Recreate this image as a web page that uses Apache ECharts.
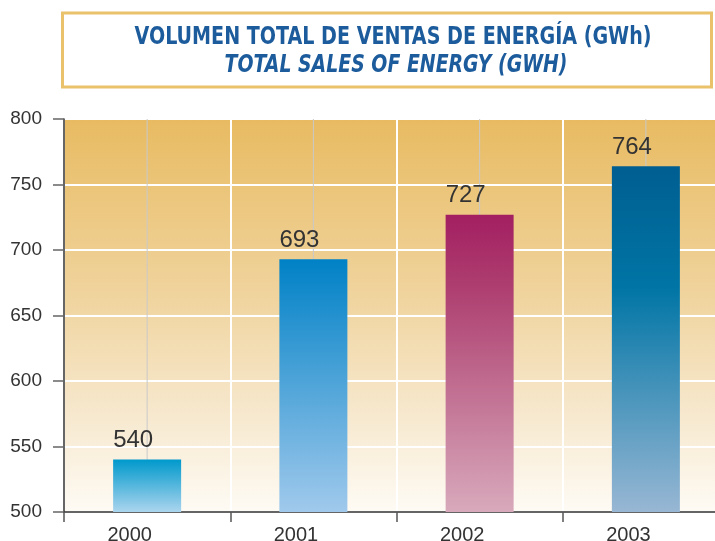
<!DOCTYPE html>
<html>
<head>
<meta charset="utf-8">
<script src="https://cdn.jsdelivr.net/npm/echarts@6/dist/echarts.min.js"></script>
<style>html,body{margin:0;padding:0;background:#fff}#c{width:715px;height:541px}</style>
</head>
<body>
<div id="c"></div>
<script>
var categories = ['2000', '2001', '2002', '2003'];
var values = [540, 693, 727, 764];
var guideTop = [800, 800, 800, 800];
var yMin = 500, yMax = 800, yStep = 50;
var titleEs = 'VOLUMEN TOTAL DE VENTAS DE ENERGÍA (GWh)';
var titleEn = 'TOTAL SALES OF ENERGY (GWH)';

var barGradients = [
  [[0, '#0099CC'], [1, '#ABD5EE']],
  [[0, '#0081C6'], [1, '#A0C9EC']],
  [[0, '#A31F61'], [0.25, '#AE3F70'], [1, '#D8A9BB']],
  [[0, '#005E91'], [0.35, '#0075A5'], [1, '#98B7D4']]
];
function grad(stops) {
  return new echarts.graphic.LinearGradient(0, 0, 0, 1,
    stops.map(function (s) { return { offset: s[0], color: s[1] }; }));
}

var chart = echarts.init(document.getElementById('c'), null, { renderer: 'canvas' });
var titleFont = '"DejaVu Sans Condensed", "Liberation Sans", sans-serif';
chart.setOption({
  animation: false,
  graphic: [
    { type: 'rect', shape: { x: 62.5, y: 13, width: 649, height: 74 },
      style: { fill: '#fff', stroke: '#EBC26C', lineWidth: 3 }, z: 0 },
    { type: 'text', x: 393, y: 38, z: 1, scaleX: 0.885,
      style: { text: titleEs, font: 'bold 24px ' + titleFont, fill: '#1D5C9C', align: 'center', verticalAlign: 'middle' } },
    { type: 'text', x: 396, y: 65.5, z: 1, scaleX: 0.875,
      style: { text: titleEn, font: 'italic bold 24px ' + titleFont, fill: '#1D5C9C', align: 'center', verticalAlign: 'middle' } }
  ],
  grid: {
    left: 64, top: 119, width: 665, height: 393,
    outerBoundsMode: 'none', containLabel: false,
    show: true, borderWidth: 0,
    backgroundColor: new echarts.graphic.LinearGradient(0, 0, 0, 1, [
      { offset: 0, color: '#E8BB62' },
      { offset: 0.45, color: '#F0D49E' },
      { offset: 0.72, color: '#F6E6C9' },
      { offset: 1, color: '#FEFBF5' }
    ])
  },
  xAxis: [{
    type: 'category', data: categories,
    axisLine: { show: true, lineStyle: { color: '#333', width: 1.5 } },
    axisTick: { show: true, length: 10, lineStyle: { color: '#555', width: 1.5 } },
    axisLabel: { fontSize: 20, color: '#333', margin: 13, padding: [0, 35, 0, 0],
      fontFamily: '"Liberation Sans", Arial, sans-serif' },
    splitLine: { show: true, lineStyle: { color: '#fff', width: 2 } }
  }, {
    type: 'category', data: categories, show: false
  }],
  yAxis: {
    type: 'value', min: yMin, max: yMax, interval: yStep,
    axisLine: { show: true, lineStyle: { color: '#333', width: 1.5 } },
    axisTick: { show: true, length: 11, lineStyle: { color: '#666', width: 1.5 } },
    axisLabel: { fontSize: 19, color: '#333', margin: 22, fontFamily: '"Liberation Sans", Arial, sans-serif' },
    splitLine: { show: true, lineStyle: { color: '#fff', width: 2 } }
  },
  series: [{
    type: 'bar', xAxisIndex: 1, data: guideTop, barWidth: 1, z: 1,
    itemStyle: { color: '#C9C9C9' }, silent: true
  }, {
    type: 'bar', xAxisIndex: 0, barWidth: 68, z: 2,
    data: values.map(function (v, i) { return { value: v, itemStyle: { color: grad(barGradients[i]) } }; }),
    label: {
      show: true, position: [0, -31], align: 'left', verticalAlign: 'top',
      fontSize: 24, color: '#333', fontFamily: '"Liberation Sans", Arial, sans-serif'
    }
  }]
});
</script>
</body>
</html>
